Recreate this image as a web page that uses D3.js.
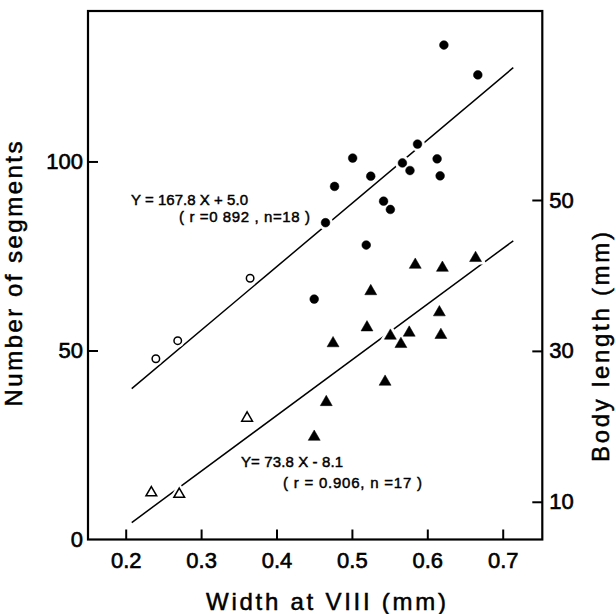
<!DOCTYPE html>
<html>
<head>
<meta charset="utf-8">
<script src="https://cdn.jsdelivr.net/npm/d3@7"></script>
<style>
    body { margin: 0; background: #fff; }
    svg { display: block; font-family: "Liberation Sans", Arial, sans-serif; }
    svg text { fill: #000; stroke: #000; stroke-width: 0.5; }
    .tick line { stroke: #000; stroke-width: 2; }
    .tick text { font-size: 22px; stroke-width: 0.6; }
</style>
</head>
<body>
<div class="container"></div>
<script>
// width at segment VIII (mm) vs number of segments (circles, left axis)
var segOpenX = [0.240, 0.269, 0.365];
var segOpenY = [47.8, 52.6, 69.1];
var segFilledX = [0.622, 0.667, 0.587, 0.501, 0.567, 0.613, 0.525, 0.577, 0.617, 0.477, 0.542, 0.551, 0.465, 0.519, 0.450];
var segFilledY = [130.8, 122.9, 104.6, 100.9, 99.6, 100.7, 96.1, 97.6, 96.2, 93.4, 89.5, 87.3, 83.8, 77.9, 63.6];

// width at segment VIII (mm) vs body length (triangles, right axis)
var lenOpenX = [0.234, 0.271, 0.361];
var lenOpenY = [11.2, 11.0, 21.1];
var lenFilledX = [0.584, 0.620, 0.664, 0.525, 0.616, 0.520, 0.551, 0.576, 0.618, 0.565, 0.475, 0.544, 0.466, 0.450];
var lenFilledY = [41.4, 41.0, 42.3, 37.9, 35.1, 33.1, 32.0, 32.4, 32.1, 30.9, 31.0, 25.9, 23.2, 18.6];

// regression lines
var fitRange = [0.208, 0.714];
var segFit = [167.8, 5.0];
var lenFit = [73.8, -8.1];

var xTicks = [0.2, 0.3, 0.4, 0.5, 0.6, 0.7];
var segTicks = [0, 50, 100];
var lenTicks = [10, 30, 50];

var W = 616, H = 614;
var LEFT = 88, RIGHT = 542.3, TOP = 11, BOTTOM = 539.5;

var svg = d3.select(".container").append("svg")
    .attr("width", W)
    .attr("height", H);

svg.append("rect")
    .attr("width", W)
    .attr("height", H)
    .attr("fill", "#fff");

var x = d3.scaleLinear().domain([0.15, 0.7525]).range([LEFT, RIGHT]);
var ySeg = d3.scaleLinear().domain([0, 139.8]).range([BOTTOM, TOP]);
var yLen = d3.scaleLinear().domain([5, 75.05]).range([BOTTOM, TOP]);

// axes (ticks point inward)
svg.append("g")
    .attr("transform", "translate(0," + BOTTOM + ")")
    .call(d3.axisBottom(x).tickValues(xTicks).tickFormat(d3.format(".1f"))
        .tickSize(-10).tickSizeOuter(0).tickPadding(13));

var gl = svg.append("g")
    .attr("transform", "translate(" + LEFT + ",0)")
    .call(d3.axisLeft(ySeg).tickValues(segTicks).tickFormat(d3.format("d"))
        .tickSize(-10).tickSizeOuter(0).tickPadding(5));

svg.append("g")
    .attr("transform", "translate(" + RIGHT + ",0)")
    .call(d3.axisRight(yLen).tickValues(lenTicks).tickFormat(d3.format("d"))
        .tickSize(-10).tickSizeOuter(0).tickPadding(7));

svg.selectAll(".domain").remove();
gl.selectAll(".tick")
    .filter(function(d) { return d === 0; })
    .select("line").remove();

// frame
svg.append("rect")
    .attr("x", LEFT)
    .attr("y", TOP)
    .attr("width", RIGHT - LEFT)
    .attr("height", BOTTOM - TOP)
    .attr("fill", "none")
    .attr("stroke", "#000")
    .attr("stroke-width", 2.2);

// fitted lines
function fitLine(coef, scale) {
    return d3.line()
        .x(function(d) { return x(d); })
        .y(function(d) { return scale(coef[0] * d + coef[1]); })(fitRange);
}

svg.append("path")
    .attr("d", fitLine(segFit, ySeg))
    .attr("fill", "none")
    .attr("stroke", "#000")
    .attr("stroke-width", 1.5);

svg.append("path")
    .attr("d", fitLine(lenFit, yLen))
    .attr("fill", "none")
    .attr("stroke", "#000")
    .attr("stroke-width", 1.5);

// markers
function pairs(xs, ys) {
    return xs.map(function(v, i) { return [v, ys[i]]; });
}

function drawMarkers(data, scale, type, size, filled) {
    var sym = d3.symbol().type(type).size(size);
    var g = svg.append("g");
    var pos = function(d) { return "translate(" + x(d[0]) + "," + scale(d[1]) + ")"; };

    // white halo breaks the fitted lines around each mark
    g.selectAll(".halo")
        .data(data)
        .enter()
        .append("path")
        .attr("d", sym)
        .attr("transform", pos)
        .attr("fill", "#fff")
        .attr("stroke", "#fff")
        .attr("stroke-width", 6);

    g.selectAll(".mark")
        .data(data)
        .enter()
        .append("path")
        .attr("d", sym)
        .attr("transform", pos)
        .attr("fill", filled ? "#000" : "#fff")
        .attr("stroke", "#000")
        .attr("stroke-width", filled ? 0.5 : 1.5);
}

drawMarkers(pairs(segOpenX, segOpenY), ySeg, d3.symbolCircle, 44, false);
drawMarkers(pairs(segFilledX, segFilledY), ySeg, d3.symbolCircle, 60, true);
drawMarkers(pairs(lenOpenX, lenOpenY), yLen, d3.symbolTriangle, 50, false);
drawMarkers(pairs(lenFilledX, lenFilledY), yLen, d3.symbolTriangle, 62, true);

// equations
var notes = [
    {t: "Y = 167.8 X + 5.0", x: 131, y: 205, w: 117},
    {t: "( r =0 892 , n=18 )", x: 179, y: 222, w: 131},
    {t: "Y= 73.8 X - 8.1", x: 241, y: 467, w: 102},
    {t: "( r = 0.906, n =17 )", x: 283, y: 488, w: 139}
];

svg.selectAll(".note")
    .data(notes)
    .enter()
    .append("text")
    .attr("x", function(d) { return d.x; })
    .attr("y", function(d) { return d.y; })
    .attr("textLength", function(d) { return d.w; })
    .attr("lengthAdjust", "spacing")
    .style("font-size", "15px")
    .style("stroke-width", 0.45)
    .text(function(d) { return d.t; });

// axis titles
svg.append("text")
    .attr("x", 326)
    .attr("y", 610)
    .attr("text-anchor", "middle")
    .attr("textLength", 240)
    .style("font-size", "24px")
    .text("Width at VIII (mm)");

svg.append("text")
    .attr("transform", "translate(22,274) rotate(-90)")
    .attr("text-anchor", "middle")
    .attr("textLength", 265)
    .style("font-size", "24px")
    .text("Number of segments");

svg.append("text")
    .attr("transform", "translate(609,347) rotate(-90)")
    .attr("text-anchor", "middle")
    .attr("textLength", 230)
    .style("font-size", "24px")
    .text("Body length (mm)");
</script>
</body>
</html>
